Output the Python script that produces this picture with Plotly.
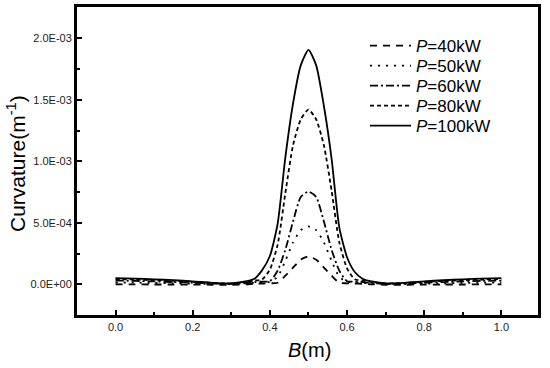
import plotly.graph_objects as go

# Shared abscissa B (m)
B = [0.0, 0.05, 0.10, 0.15, 0.20, 0.25, 0.30, 0.34, 0.36, 0.38, 0.40, 0.42, 0.44, 0.46,
     0.48, 0.50, 0.52, 0.54, 0.56, 0.58, 0.60, 0.62, 0.64, 0.66, 0.70, 0.75, 0.80, 0.85,
     0.90, 0.95, 1.0]

# Curvature values (m^-1)
c40 = [0.0, -0.001e-3, -0.002e-3, -0.002e-3, -0.003e-3, -0.004e-3, -0.004e-3, 0.0, 0.004e-3,
       0.006e-3, 0.008e-3, 0.012e-3, 0.07e-3, 0.135e-3, 0.20e-3, 0.226e-3, 0.20e-3, 0.135e-3,
       0.07e-3, 0.012e-3, 0.008e-3, 0.006e-3, 0.004e-3, 0.0, -0.004e-3, -0.004e-3, -0.003e-3,
       -0.002e-3, -0.002e-3, -0.001e-3, 0.0]
c50 = [0.015e-3, 0.013e-3, 0.011e-3, 0.008e-3, 0.005e-3, 0.002e-3, 0.001e-3, 0.008e-3, 0.012e-3,
       0.015e-3, 0.02e-3, 0.06e-3, 0.19e-3, 0.34e-3, 0.44e-3, 0.47e-3, 0.44e-3, 0.34e-3,
       0.19e-3, 0.06e-3, 0.02e-3, 0.015e-3, 0.012e-3, 0.008e-3, 0.001e-3, 0.002e-3, 0.005e-3,
       0.008e-3, 0.011e-3, 0.013e-3, 0.015e-3]
c60 = [0.030e-3, 0.027e-3, 0.023e-3, 0.018e-3, 0.012e-3, 0.006e-3, 0.004e-3, 0.012e-3, 0.018e-3,
       0.022e-3, 0.025e-3, 0.11e-3, 0.28e-3, 0.51e-3, 0.71e-3, 0.754e-3, 0.71e-3, 0.51e-3,
       0.28e-3, 0.11e-3, 0.025e-3, 0.022e-3, 0.018e-3, 0.012e-3, 0.004e-3, 0.006e-3, 0.012e-3,
       0.018e-3, 0.023e-3, 0.027e-3, 0.030e-3]
c80 = [0.042e-3, 0.038e-3, 0.033e-3, 0.027e-3, 0.019e-3, 0.010e-3, 0.006e-3, 0.02e-3, 0.03e-3,
       0.04e-3, 0.12e-3, 0.32e-3, 0.74e-3, 1.13e-3, 1.34e-3, 1.42e-3, 1.34e-3, 1.13e-3,
       0.76e-3, 0.34e-3, 0.13e-3, 0.04e-3, 0.03e-3, 0.02e-3, 0.006e-3, 0.010e-3, 0.019e-3,
       0.027e-3, 0.033e-3, 0.038e-3, 0.042e-3]
c100 = [0.050e-3, 0.046e-3, 0.040e-3, 0.033e-3, 0.024e-3, 0.012e-3, 0.008e-3, 0.025e-3, 0.045e-3,
        0.115e-3, 0.23e-3, 0.49e-3, 1.03e-3, 1.47e-3, 1.78e-3, 1.906e-3, 1.78e-3, 1.45e-3,
        1.02e-3, 0.46e-3, 0.22e-3, 0.10e-3, 0.045e-3, 0.025e-3, 0.008e-3, 0.012e-3, 0.024e-3,
        0.033e-3, 0.040e-3, 0.046e-3, 0.050e-3]

series_names = ["<i>P</i>=40kW", "<i>P</i>=50kW", "<i>P</i>=60kW", "<i>P</i>=80kW", "<i>P</i>=100kW"]
series_values = [c40, c50, c60, c80, c100]
series_dash = ["7px,6px", "2px,6px", "8px,3px,2px,3px", "4px,3px", "solid"]

y_tickvals = [0.0, 0.5e-3, 1.0e-3, 1.5e-3, 2.0e-3]
y_ticktext = ["0.0E+00", "5.0E-04", "1.0E-03", "1.5E-03", "2.0E-03"]
x_tickvals = [0.0, 0.2, 0.4, 0.6, 0.8, 1.0]
x_ticktext = ["0.0", "0.2", "0.4", "0.6", "0.8", "1.0"]

FONT = "Liberation Sans, Arial, sans-serif"
W, H = 550, 368
ML, MR, MT, MB = 77, 12, 7, 53
PW, PH = W - ML - MR, H - MT - MB

legend_ids = ["legend", "legend2", "legend3", "legend4", "legend5"]
legend_px_y = [46, 66, 86, 106, 126]

fig = go.Figure()
for name, vals, dash, lid in zip(series_names, series_values, series_dash, legend_ids):
    fig.add_trace(go.Scatter(
        x=B, y=vals, mode="lines", name=name, legend=lid,
        line=dict(color="black", width=1.8, dash=dash, shape="spline", smoothing=0.6),
    ))

layout_legends = {}
for lid, py in zip(legend_ids, legend_px_y):
    layout_legends[lid] = dict(
        x=(365 - ML) / PW, y=1 - (py - MT) / PH, xanchor="left", yanchor="middle",
        bgcolor="rgba(0,0,0,0)", borderwidth=0, itemwidth=41,
        font=dict(family=FONT, size=17, color="black"),
    )

fig.update_layout(
    width=W, height=H,
    margin=dict(l=ML, r=MR, t=MT, b=MB, autoexpand=False),
    paper_bgcolor="white", plot_bgcolor="white",
    font=dict(family=FONT, color="black"),
    showlegend=True,
    **layout_legends,
    annotations=[
        dict(text="<i>B</i>(m)", xref="paper", yref="paper",
             x=(309.5 - ML) / PW, y=-(350 - MT - PH) / PH, xanchor="center", yanchor="middle",
             showarrow=False, font=dict(family=FONT, size=20, color="black")),
        dict(text="Curvature(m<sup>-1</sup>)", xref="paper", yref="paper", textangle=-90,
             x=-(ML - 16) / PW, y=1 - (163 - MT) / PH, xanchor="center", yanchor="middle",
             showarrow=False, font=dict(family=FONT, size=21, color="black")),
    ],
)

fig.update_xaxes(
    range=[-0.1, 1.095], automargin=False,
    tickmode="array", tickvals=x_tickvals, ticktext=x_ticktext,
    ticks="inside", ticklen=5, tickwidth=2, tickcolor="black",
    minor=dict(ticks="inside", ticklen=3, tickwidth=1.5, tickcolor="black",
               tickmode="array", tickvals=[-0.1, 0.1, 0.3, 0.5, 0.7, 0.9, 1.1]),
    showline=True, linewidth=3, linecolor="black", mirror=True,
    showgrid=False, zeroline=False,
    tickfont=dict(family=FONT, size=11, color="#222"),
)
fig.update_yaxes(
    range=[-0.25e-3, 2.255e-3], automargin=False,
    tickmode="array", tickvals=y_tickvals, ticktext=y_ticktext,
    ticks="inside", ticklen=5, tickwidth=2, tickcolor="black",
    minor=dict(ticks="inside", ticklen=3, tickwidth=1.5, tickcolor="black",
               tickmode="array", tickvals=[-0.25e-3, 0.25e-3, 0.75e-3, 1.25e-3, 1.75e-3, 2.25e-3]),
    showline=True, linewidth=3, linecolor="black", mirror=True,
    showgrid=False, zeroline=False,
    tickfont=dict(family=FONT, size=11, color="#222"),
)

fig.write_html("out.html", config={"displayModeBar": False},
               post_script="document.body.style.margin='0';document.body.style.padding='0';")
